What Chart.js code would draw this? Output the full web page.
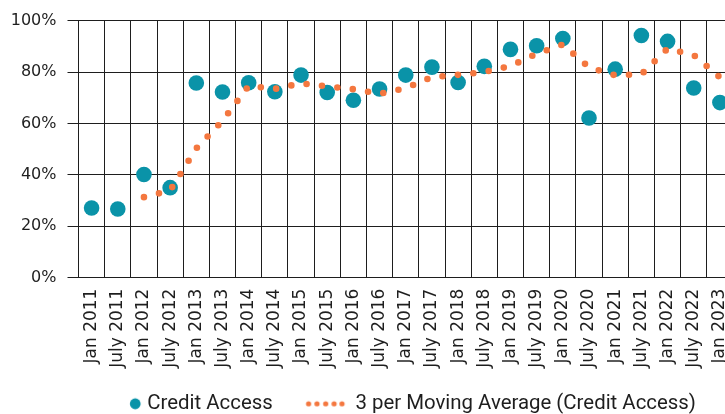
<!DOCTYPE html>
<html>
<head>
<meta charset="utf-8">
<script src="https://cdn.jsdelivr.net/npm/chart.js@4/dist/chart.umd.min.js"></script>
<style>
  html, body { margin: 0; padding: 0; overflow: hidden; background: #ffffff; width: 725px; height: 414px; }
  #wrap { position: absolute; left: 0; top: 0; width: 760px; height: 424px; }
</style>
</head>
<body>
<div id="wrap"><canvas id="chart"></canvas></div>
<script>
// ---- data ----
const categories = [
  'Jan 2011', 'July 2011', 'Jan 2012', 'July 2012', 'Jan 2013', 'July 2013',
  'Jan 2014', 'July 2014', 'Jan 2015', 'July 2015', 'Jan 2016', 'July 2016',
  'Jan 2017', 'July 2017', 'Jan 2018', 'July 2018', 'Jan 2019', 'July 2019',
  'Jan 2020', 'July 2020', 'Jan 2021', 'July 2021', 'Jan 2022', 'July 2022',
  'Jan 2023'
];
const creditAccess = [
  27.1, 26.7, 40.1, 35.0, 75.7, 72.2,
  75.8, 72.3, 78.8, 72.0, 69.0, 73.4,
  78.8, 81.9, 75.9, 82.2, 88.8, 90.2,
  93.0, 62.1, 81.1, 94.2, 91.9, 73.8,
  68.1
];
const movingAverage = [
  null, null, 31.3, 33.9, 50.3, 61.0,
  74.6, 73.4, 75.6, 74.4, 73.3, 71.5,
  73.7, 78.0, 78.9, 80.0, 82.3, 87.1,
  90.7, 81.8, 78.7, 79.1, 89.1, 86.6,
  77.9
];
const yTickValues = [0, 20, 40, 60, 80, 100];
const seriesNames = ['Credit Access', '3 per Moving Average (Credit Access)'];

const TEAL = '#0a93a8';
const ORANGE = '#f4773f';
const INK = '#1e1e1e';
const GRID = '#1e1e1e';

// legend symbols (small images used as Chart.js legend point styles)
function makeCaSymbol() {
  const c = document.createElement('canvas');
  c.width = 80; c.height = 14;
  const g = c.getContext('2d');
  g.fillStyle = TEAL;
  g.beginPath(); g.arc(70.2, 7, 5.4, 0, Math.PI * 2); g.fill();
  return c;
}
function makeMaSymbol() {
  const c = document.createElement('canvas');
  c.width = 80; c.height = 14;
  const g = c.getContext('2d');
  g.fillStyle = ORANGE;
  [-4.7, 3.7, 12.4, 20.8, 28.7].forEach(dx => {
    g.beginPath(); g.arc(40 + dx, 7, 2.6, 0, Math.PI * 2); g.fill();
  });
  return c;
}
const caSymbol = makeCaSymbol();
const maSymbol = makeMaSymbol();

new Chart(document.getElementById('chart'), {
  type: 'line',
  data: {
    labels: categories,
    datasets: [
      {
        label: seriesNames[0],
        data: creditAccess,
        showLine: false,
        pointRadius: 7.8,
        pointHoverRadius: 7.8,
        pointBackgroundColor: TEAL,
        pointBorderWidth: 0,
        borderColor: TEAL,
        order: 1
      },
      {
        label: seriesNames[1],
        data: movingAverage,
        borderColor: ORANGE,
        borderWidth: 6.6,
        borderDash: [0, 15.5],
        borderCapStyle: 'round',
        borderJoinStyle: 'round',
        pointRadius: 0,
        pointHoverRadius: 0,
        tension: 0,
        fill: false,
        order: 0
      }
    ]
  },
  options: {
    responsive: true,
    maintainAspectRatio: false,
    animation: false,
    events: [],
    layout: { padding: { left: 10, right: 1, top: 20.5, bottom: 0 } },
    scales: {
      x: {
        offset: true,
        grid: { offset: true, color: GRID, lineWidth: 1, drawTicks: false },
        border: { display: true, color: GRID, width: 1 },
        ticks: {
          autoSkip: false, minRotation: 90, maxRotation: 90, padding: 11,
          color: INK, font: { family: 'DejaVu Sans', size: 17 }
        },
        afterFit(scale) { scale.height = 107.5; }
      },
      y: {
        min: 0, max: 100,
        afterBuildTicks(scale) { scale.ticks = yTickValues.map(v => ({ value: v })); },
        grid: { color: GRID, lineWidth: 1, drawTicks: true, tickLength: 11 },
        border: { display: true, color: GRID, width: 1 },
        ticks: {
          padding: 11, color: INK,
          font: { family: 'DejaVu Sans', size: 16 },
          callback: v => v + '%'
        },
        afterFit(scale) { scale.width = 68.5; }
      },
      y2: {
        position: 'right',
        display: true,
        grid: { display: false, drawOnChartArea: false, drawTicks: false },
        border: { display: false },
        ticks: { display: false },
        afterFit(scale) { scale.width = 26; }
      }
    },
    plugins: {
      tooltip: { enabled: false },
      legend: {
        position: 'bottom',
        align: 'center',
        labels: {
          usePointStyle: true,
          pointStyleWidth: 64,
          padding: 8.5,
          color: INK,
          font: { family: 'Roboto', size: 20.4 },
          generateLabels(chart) {
            return [
              { text: seriesNames[0], pointStyle: caSymbol, datasetIndex: 0, hidden: false, lineWidth: 0, fontColor: INK, strokeStyle: 'rgba(0,0,0,0)', fillStyle: TEAL },
              { text: seriesNames[1], pointStyle: maSymbol, datasetIndex: 1, hidden: false, lineWidth: 0, fontColor: INK, strokeStyle: 'rgba(0,0,0,0)', fillStyle: ORANGE }
            ];
          }
        }
      }
    }
  }
});
</script>
</body>
</html>
